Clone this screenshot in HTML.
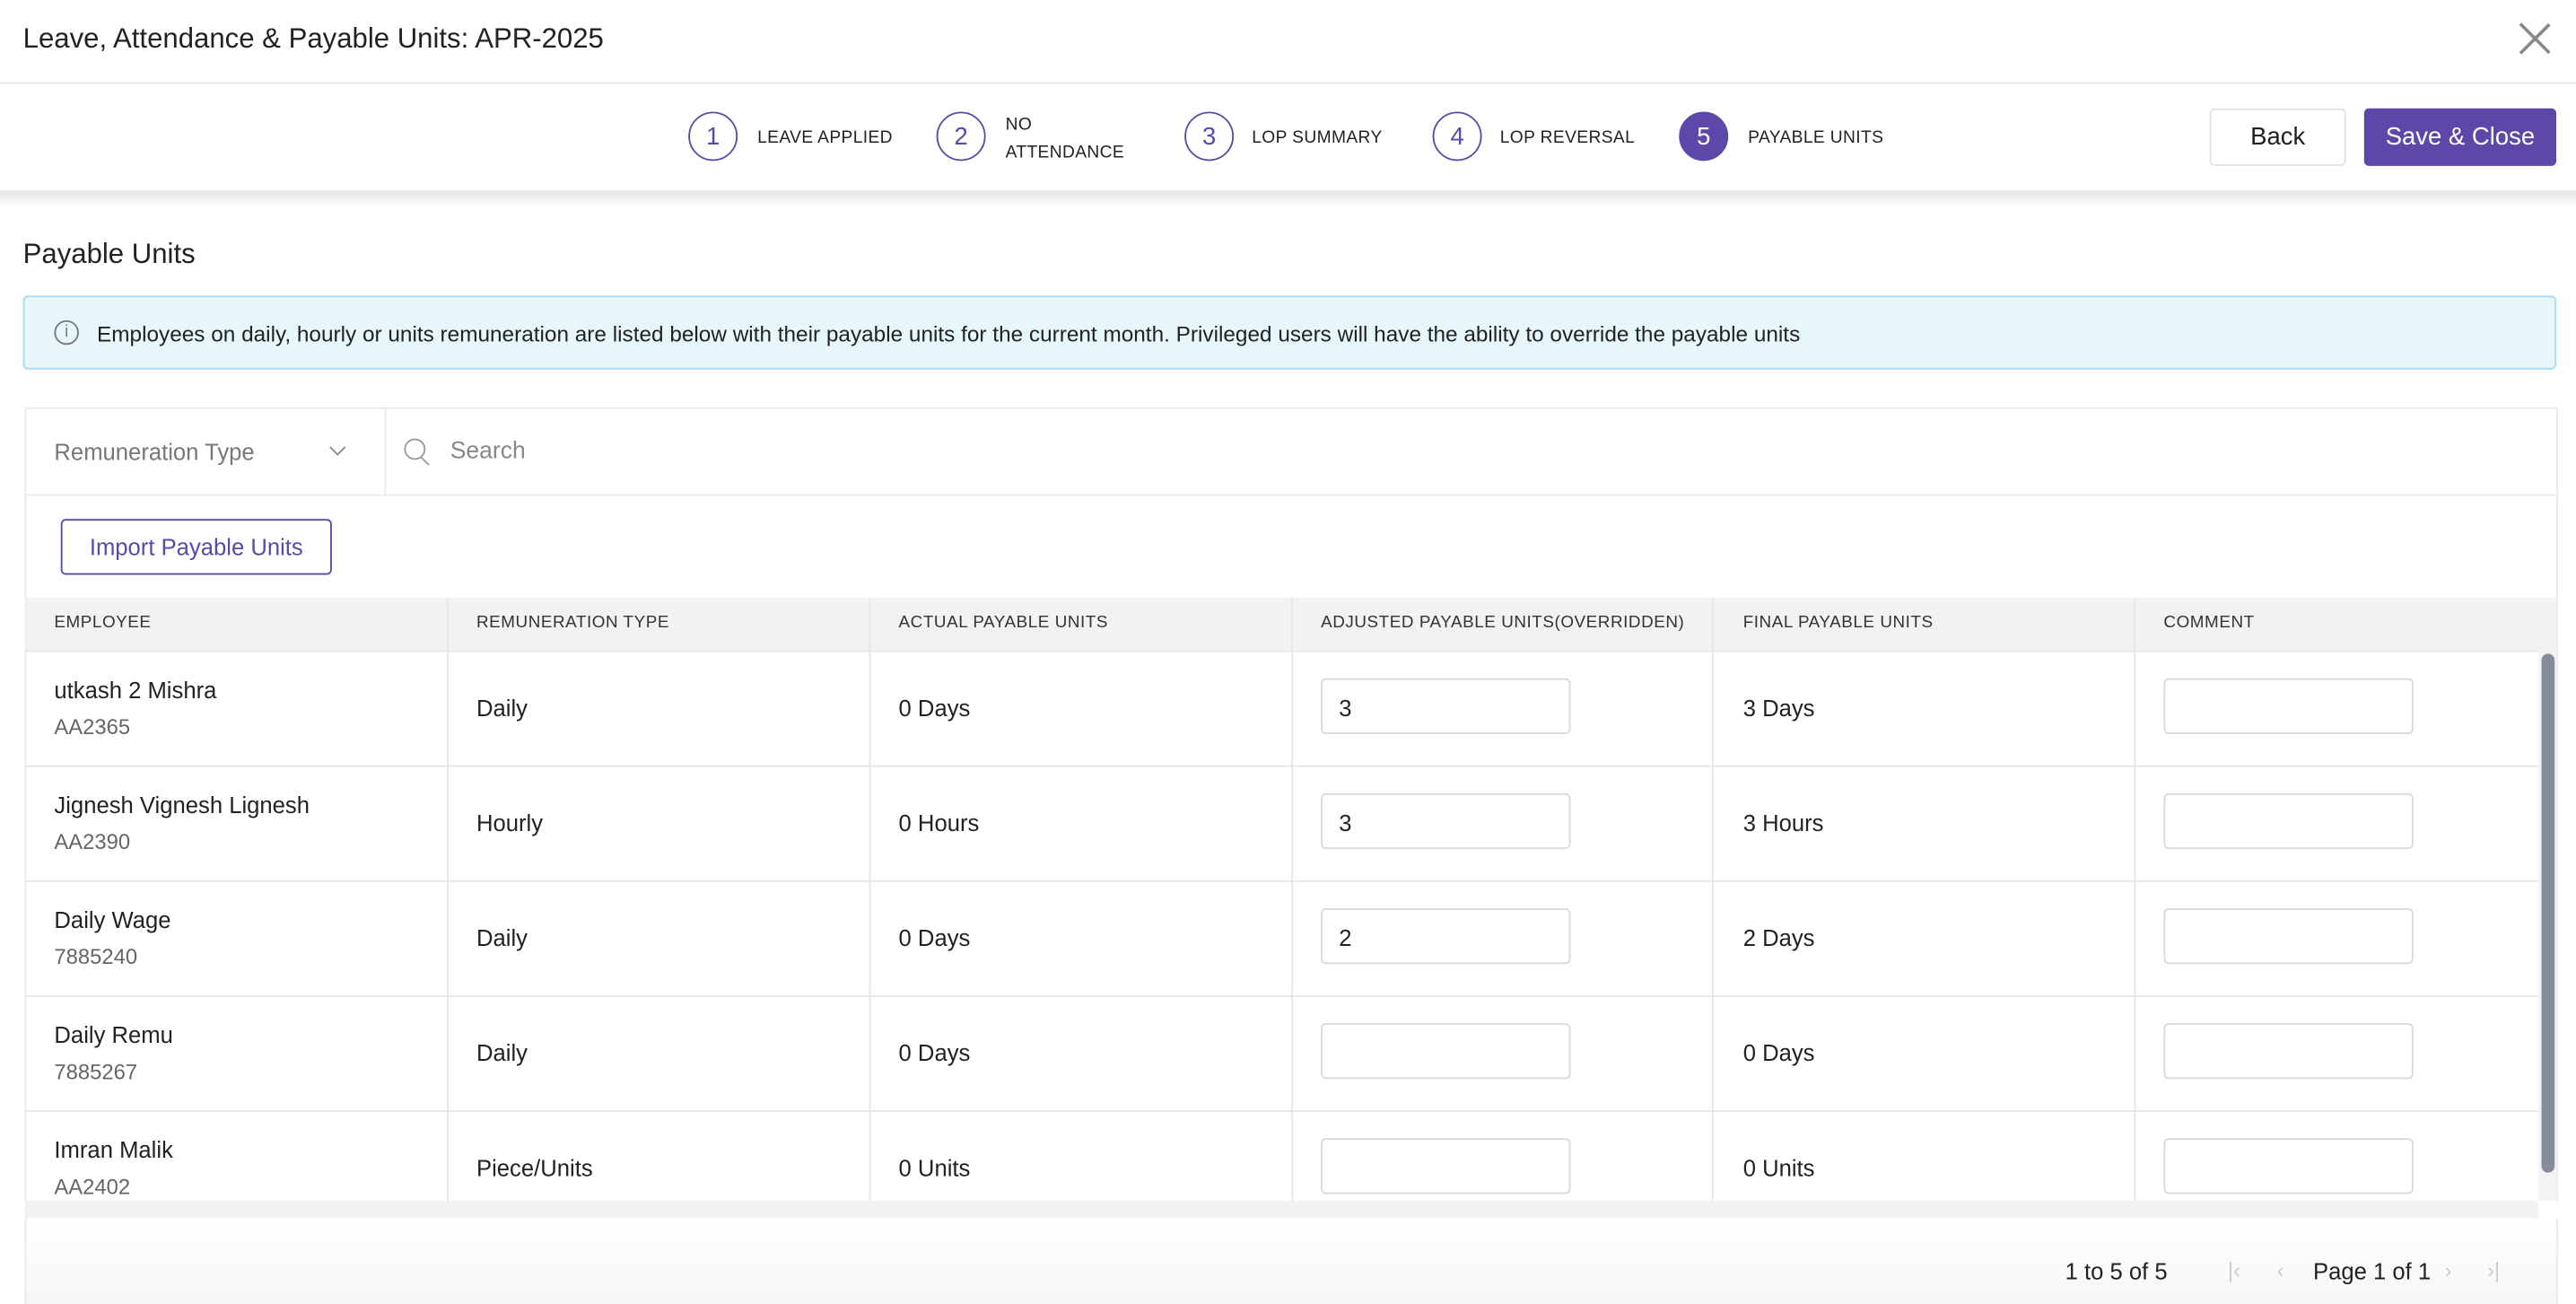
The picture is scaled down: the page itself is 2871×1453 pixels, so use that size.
<!DOCTYPE html>
<html><head><meta charset="utf-8"><style>
html,body{margin:0;padding:0;background:#fff;overflow:hidden}
body{width:2871px;height:1453px}
#w{position:absolute;left:0;top:0;width:1568px;height:794px;transform:scale(1.831,1.8300);transform-origin:0 0;font-family:"Liberation Sans",sans-serif;color:#1f1f23}
.a{position:absolute}
.step{position:absolute;top:68px;width:28px;height:28px;border:1.5px solid #5b48a8;border-radius:50%;color:#5b48a8;font-size:15px;text-align:center;line-height:29px}
.sl{position:absolute;font-size:10.5px;letter-spacing:.2px;color:#222}
.th{position:absolute;top:374px;font-size:10.3px;letter-spacing:.3px;color:#333}
.vl{position:absolute;top:364px;width:1px;height:367px;background:#e6e7ea}
.hl{position:absolute;left:15px;width:1530px;height:1px;background:#e6e7ea}
.t{position:absolute;font-size:14px;color:#222}
.s{position:absolute;font-size:13px;color:#666}
.in{position:absolute;width:152px;height:34px;border:1px solid #d8d9de;border-radius:3px;background:#fff;font-size:14px;line-height:34px;box-sizing:border-box;padding-left:10px;color:#222}
</style></head><body><div id="w">
<div class="a" style="left:14px;top:14px;font-size:17px;color:#222">Leave, Attendance &amp; Payable Units: APR-2025</div>
<div class="a" style="left:1542px;top:11px;width:1.5px;height:25px;background:#888;transform:rotate(45deg)"></div>
<div class="a" style="left:1542px;top:11px;width:1.5px;height:25px;background:#888;transform:rotate(-45deg)"></div>
<div class="a" style="left:0;top:50px;width:1568px;height:1px;background:#e8e8ea"></div>
<div class="a" style="left:0;top:116px;width:1568px;height:10px;background:linear-gradient(#e2e3e6,#fff)"></div>
<div class="step" style="left:419px">1</div><div class="sl" style="left:461px;top:78px">LEAVE APPLIED</div>
<div class="step" style="left:570px">2</div><div class="sl" style="left:612px;top:68px;line-height:17px">NO<br>ATTENDANCE</div>
<div class="step" style="left:721px">3</div><div class="sl" style="left:762px;top:78px">LOP SUMMARY</div>
<div class="step" style="left:872px">4</div><div class="sl" style="left:913px;top:78px">LOP REVERSAL</div>
<div class="step" style="left:1022px;background:#5b48a8;color:#fff">5</div><div class="sl" style="left:1064px;top:78px">PAYABLE UNITS</div>
<div class="a" style="left:1345px;top:66px;width:81px;height:33px;border:1px solid #e2e2e6;border-radius:3px;text-align:center;line-height:34px;font-size:15px">Back</div>
<div class="a" style="left:1439px;top:66px;width:117px;height:35px;background:#5b48a8;border-radius:3px;text-align:center;line-height:35px;font-size:15px;color:#fff">Save &amp; Close</div>
<div class="a" style="left:14px;top:145px;font-size:17px;color:#222">Payable Units</div>
<div class="a" style="left:14px;top:180px;width:1540px;height:43px;background:#e6f6fb;border:1px solid #a6dcef;border-radius:3px"></div>
<div class="a" style="left:33px;top:195px;width:13px;height:13px;border:1px solid #777;border-radius:50%;font-size:10px;text-align:center;line-height:13px;color:#777">i</div>
<div class="a" style="left:59px;top:196px;font-size:13.3px;color:#222">Employees on daily, hourly or units remuneration are listed below with their payable units for the current month. Privileged users will have the ability to override the payable units</div>
<div class="a" style="left:15px;top:248px;width:1540px;height:483px;border:1px solid #eaeaec;border-bottom:none"></div>
<div class="a" style="left:15px;top:301px;width:1541px;height:1px;background:#eaeaec"></div>
<div class="a" style="left:234px;top:248px;width:1px;height:53px;background:#eaeaec"></div>
<div class="a" style="left:33px;top:267px;font-size:14px;color:#777">Remuneration Type</div>
<div class="a" style="left:202px;top:269px;width:6px;height:6px;border-right:1px solid #888;border-bottom:1px solid #888;transform:rotate(45deg)"></div>
<div class="a" style="left:246px;top:267px;width:11px;height:11px;border:1.2px solid #999;border-radius:50%"></div>
<div class="a" style="left:258px;top:277px;width:1.3px;height:7px;background:#999;transform:rotate(-45deg)"></div>
<div class="a" style="left:274px;top:267px;font-size:14.5px;color:#888">Search</div>
<div class="a" style="left:37px;top:316px;width:163px;height:32px;border:1.3px solid #5b48a8;border-radius:3px;text-align:center;line-height:33px;font-size:14px;color:#5b48a8">Import Payable Units</div>
<div class="a" style="left:15px;top:364px;width:1541px;height:32px;background:#f1f2f4"></div>
<div class="th" style="left:33px">EMPLOYEE</div><div class="th" style="left:290px">REMUNERATION TYPE</div><div class="th" style="left:547px">ACTUAL PAYABLE UNITS</div><div class="th" style="left:804px">ADJUSTED PAYABLE UNITS(OVERRIDDEN)</div><div class="th" style="left:1061px">FINAL PAYABLE UNITS</div><div class="th" style="left:1317px">COMMENT</div>
<div class="vl" style="left:272px"></div><div class="vl" style="left:529px"></div><div class="vl" style="left:786px"></div><div class="vl" style="left:1042px"></div><div class="vl" style="left:1299px"></div>
<div class="hl" style="top:396px"></div><div class="hl" style="top:466px"></div><div class="hl" style="top:536px"></div><div class="hl" style="top:606px"></div><div class="hl" style="top:676px"></div>
<div class="a" style="left:1545px;top:396px;width:11px;height:335px;background:#f3f3f5"></div>
<div class="a" style="left:1547px;top:398px;width:8px;height:316px;background:#868c99;border-radius:4px"></div>

<div class="t" style="left:33px;top:412px">utkash 2 Mishra</div><div class="s" style="left:33px;top:435px">AA2365</div>
<div class="t" style="left:290px;top:423px">Daily</div><div class="t" style="left:547px;top:423px">0 Days</div>
<div class="in" style="left:804px;top:413px">3</div><div class="t" style="left:1061px;top:423px">3 Days</div><div class="in" style="left:1317px;top:413px"></div>

<div class="t" style="left:33px;top:482px">Jignesh Vignesh Lignesh</div><div class="s" style="left:33px;top:505px">AA2390</div>
<div class="t" style="left:290px;top:493px">Hourly</div><div class="t" style="left:547px;top:493px">0 Hours</div>
<div class="in" style="left:804px;top:483px">3</div><div class="t" style="left:1061px;top:493px">3 Hours</div><div class="in" style="left:1317px;top:483px"></div>

<div class="t" style="left:33px;top:552px">Daily Wage</div><div class="s" style="left:33px;top:575px">7885240</div>
<div class="t" style="left:290px;top:563px">Daily</div><div class="t" style="left:547px;top:563px">0 Days</div>
<div class="in" style="left:804px;top:553px">2</div><div class="t" style="left:1061px;top:563px">2 Days</div><div class="in" style="left:1317px;top:553px"></div>

<div class="t" style="left:33px;top:622px">Daily Remu</div><div class="s" style="left:33px;top:645px">7885267</div>
<div class="t" style="left:290px;top:633px">Daily</div><div class="t" style="left:547px;top:633px">0 Days</div>
<div class="in" style="left:804px;top:623px"></div><div class="t" style="left:1061px;top:633px">0 Days</div><div class="in" style="left:1317px;top:623px"></div>

<div class="t" style="left:33px;top:692px">Imran Malik</div><div class="s" style="left:33px;top:715px">AA2402</div>
<div class="t" style="left:290px;top:703px">Piece/Units</div><div class="t" style="left:547px;top:703px">0 Units</div>
<div class="in" style="left:804px;top:693px"></div><div class="t" style="left:1061px;top:703px">0 Units</div><div class="in" style="left:1317px;top:693px"></div>

<div class="a" style="left:15px;top:731px;width:1530px;height:11px;background:#f1f2f4"></div>
<div class="a" style="left:15px;top:742px;width:1540px;height:52px;border-left:1px solid #eaeaec;border-right:1px solid #eaeaec;background:linear-gradient(#fff,#f6f6f7)"></div>
<div class="a" style="left:1257px;top:766px;font-size:14px;color:#222">1 to 5 of 5</div>
<div class="a" style="left:1356px;top:766px;font-size:13px;color:#ccc">|‹</div>
<div class="a" style="left:1386px;top:766px;font-size:13px;color:#ccc">‹</div>
<div class="a" style="left:1408px;top:766px;font-size:14px;color:#222">Page 1 of 1</div>
<div class="a" style="left:1488px;top:766px;font-size:13px;color:#ccc">›</div>
<div class="a" style="left:1514px;top:766px;font-size:13px;color:#ccc">›|</div>
</div></body></html>
